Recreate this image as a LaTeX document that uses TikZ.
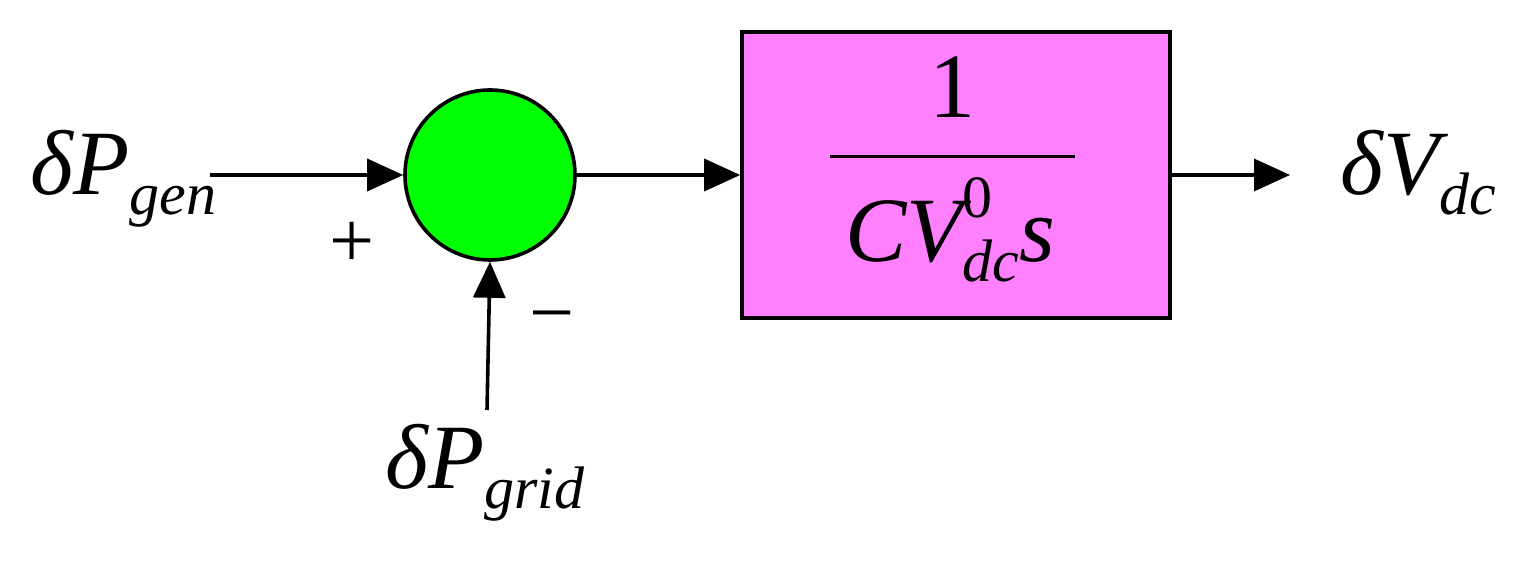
\documentclass[tikz,border=0pt]{standalone}
\usepackage{fontspec}
\setmainfont{Liberation Serif}
\usetikzlibrary{arrows.meta}
\newcommand{\bigf}{\fontsize{46}{50}\selectfont}
\newcommand{\subf}{\fontsize{30}{32}\selectfont}
\newcommand{\sbs}[1]{\raisebox{-10pt}{\subf\itshape #1}}
\tikzset{sig/.style={line width=1.8pt,-{Triangle[length=18pt,width=16pt]}},
lab/.style={font=\bigf\itshape,inner sep=0pt}}
\begin{document}
\begin{tikzpicture}[x=0.5pt,y=-0.5pt]
\useasboundingbox (0,0) rectangle (1519,576);
\node[circle,draw,line width=1.8pt,fill={rgb,255:red,0;green,255;blue,0},minimum size=85pt,inner sep=0pt] (sum) at (490,175) {};
\node[draw,line width=1.8pt,fill={rgb,255:red,255;green,128;blue,255},minimum width=214pt,minimum height=143pt,inner sep=0pt] (blk) at (956,175) {};
\coordinate (in) at (210,175);
\coordinate (gin) at (487,410);
\coordinate (out) at (1290,175);
\draw[sig] (in) -- (sum.west);
\draw[sig] (gin) -- (sum.south);
\draw[sig] (sum.east) -- (blk.west);
\draw[sig] (blk.east) -- (out);
\node[lab,anchor=base west] (pg) at (30,195) {δP\sbs{gen}};
\node[lab,anchor=base] (pgr) at (485,488) {δP\sbs{grid}};
\node[lab,anchor=base west] (vdc) at (1340,195) {δV\sbs{dc}};
\node[font=\fontsize{40}{44}\selectfont,inner sep=0pt] (plus) at (352,245) {+};
\node[font=\fontsize{40}{44}\selectfont,inner sep=0pt] (minus) at (552,325) {−};
\node[font=\bigf,inner sep=0pt,anchor=base] (one) at (952,118) {1};
\draw[line width=1.5pt] (830,157) coordinate (fl) -- (1075,157) coordinate (fr);
\node[lab,anchor=base] (den) at (950,262) {CV\rlap{\raisebox{22pt}{\subf\upshape 0}}\sbs{dc}s};
\end{tikzpicture}
\end{document}
